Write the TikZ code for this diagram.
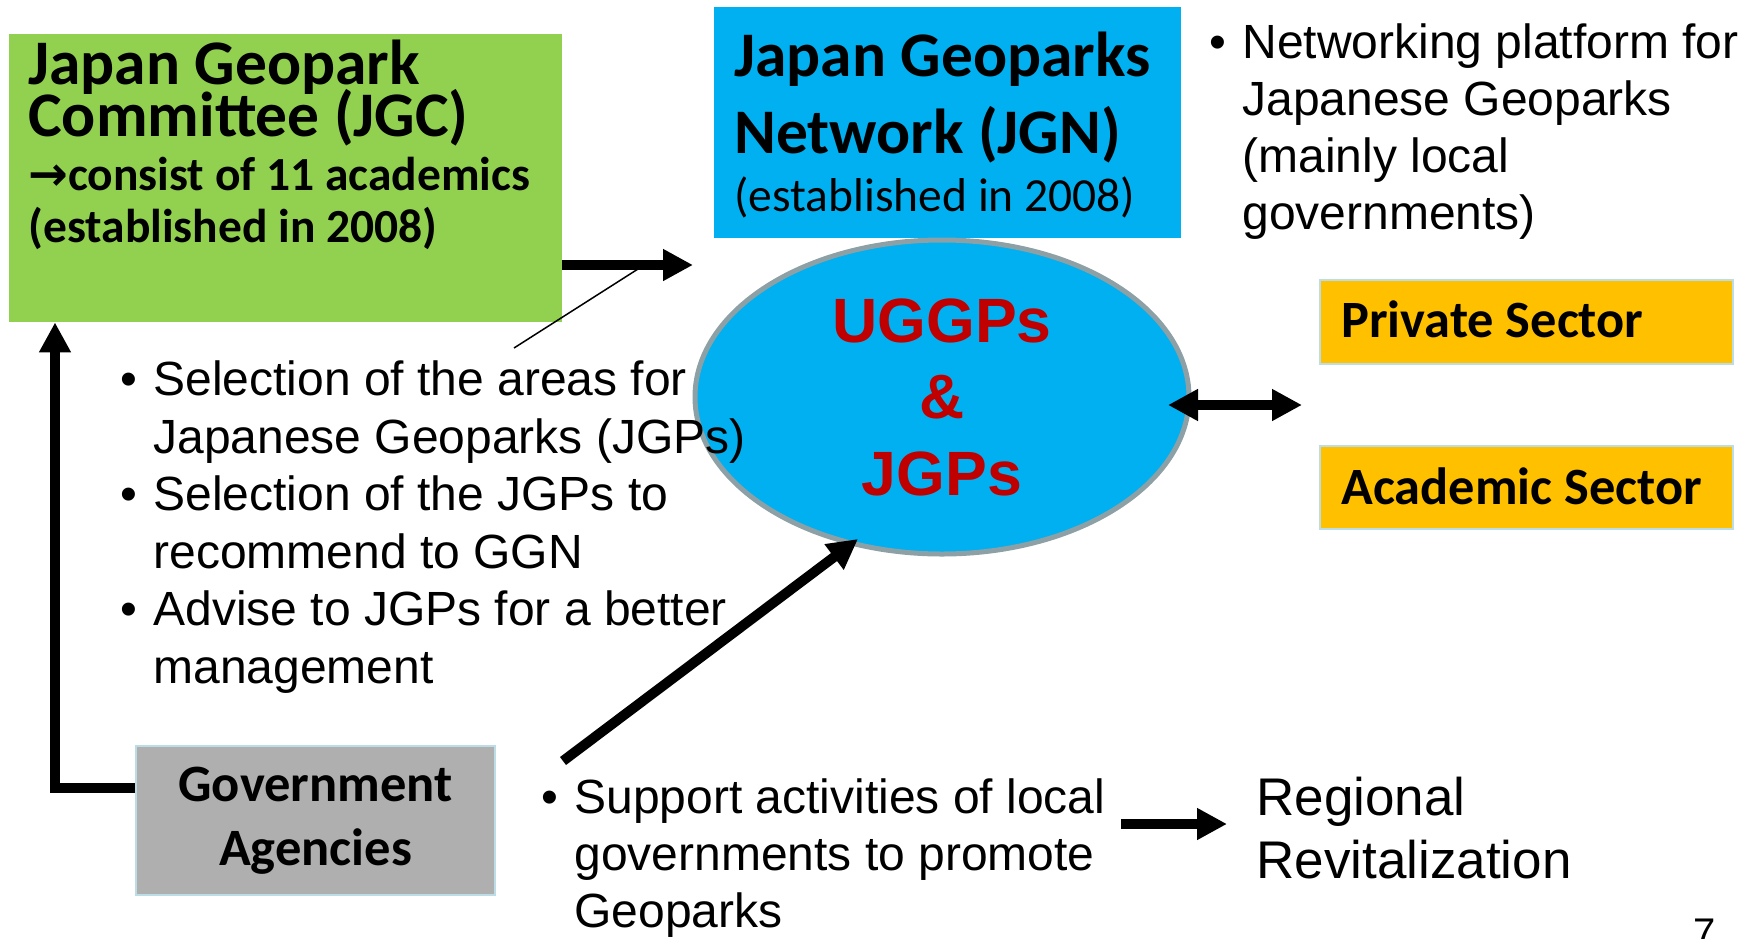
\documentclass[tikz,border=0pt]{standalone}
\usepackage{fontspec}
\setmainfont{Liberation Sans}
\newfontfamily\carlito{Carlito}
\newfontfamily\dejavu{DejaVu Sans}
\usetikzlibrary{shapes.geometric,arrows.meta}

\definecolor{jgcgreen}{HTML}{92D050}
\definecolor{jgnblue}{HTML}{00B0F0}
\definecolor{secorange}{HTML}{FFC000}
\definecolor{govgray}{HTML}{AFAFAF}
\definecolor{uggpred}{HTML}{C00000}
\definecolor{rimgray}{RGB}{140,160,165}
\definecolor{edgeblue}{HTML}{BDDDE6}

\setlength{\lineskiplimit}{-100pt}
\newcommand{\bul}{\leavevmode\llap{\makebox[16.5pt][l]{•}}}

\begin{document}
\begin{tikzpicture}[x=0.5pt,y=-0.5pt,
	box/.style={rectangle,inner sep=0pt},
	txt/.style={anchor=base west,inner sep=0pt,align=left},
	fat/.style={line width=5pt,-{Triangle[length=15pt,width=15pt]}},
	fatboth/.style={line width=5pt,{Triangle[length=15pt,width=15pt]}-{Triangle[length=15pt,width=15pt]}}]
\useasboundingbox (0,0) rectangle (1752,938);

	% committee (text nodes sit on their last baseline)
	\node[box,fill=jgcgreen,minimum width=276.5pt,minimum height=144pt] at (285.5,178) (jgc) {};
	\node[txt,font=\carlito\bfseries\fontsize{31.75}{26}\selectfont] at (28,136) (jgctitle) {Japan Geopark\\Committee (JGC)};
	\node[txt,font=\carlito\bfseries\fontsize{23.75}{26}\selectfont] at (28,242) (jgcsub) {{\dejavu →}consist of 11 academics\\(established in 2008)};

	% network
	\node[box,fill=jgnblue,minimum width=233.5pt,minimum height=115.5pt] at (947.5,122.5) (jgn) {};
	\node[txt,font=\carlito\bfseries\fontsize{31.75}{38.5}\selectfont] at (734,153) (jgntitle) {Japan Geoparks\\Network (JGN)};
	\node[txt,font=\carlito\fontsize{23.75}{28}\selectfont] at (734,211) (jgnyear) {(established in 2008)};
	\node[txt,font=\fontsize{24}{28.5}\selectfont] at (1242,229) (jgnnote) {\bul Networking platform for\\Japanese Geoparks\\(mainly local\\governments)};

	% geoparks
	\node[ellipse,draw=rimgray,line width=2.5pt,fill=jgnblue,minimum width=247pt,minimum height=157pt,inner sep=0pt,align=center,text=uggpred,font=\bfseries\fontsize{31.3}{38.25}\selectfont] at (942,397) (uggp) {UGGPs\\\&\\JGPs};

	% sectors
	\node[box,fill=secorange,draw=edgeblue,line width=1pt,minimum width=206.5pt,minimum height=42pt] at (1526.5,322) (priv) {};
	\node[txt,font=\carlito\bfseries\fontsize{26.2}{30}\selectfont] at (1341,337) (privtxt) {Private Sector};
	\node[box,fill=secorange,draw=edgeblue,line width=1pt,minimum width=206.5pt,minimum height=41.5pt] at (1526.5,487.5) (acad) {};
	\node[txt,font=\carlito\bfseries\fontsize{26.2}{30}\selectfont] at (1341,504) (acadtxt) {Academic Sector};

	% government
	\node[box,fill=govgray,draw=edgeblue,line width=1pt,minimum width=179.5pt,minimum height=74.5pt,align=center,font=\carlito\bfseries\fontsize{26.25}{32}\selectfont] at (315.5,820.5) (gov) {Government\\Agencies};

	\node[txt,font=\fontsize{24}{28.75}\selectfont] at (153,683) (jgcrole) {\bul Selection of the areas for\\Japanese Geoparks (JGPs)\\\bul Selection of the JGPs to\\recommend to GGN\\\bul Advise to JGPs for a better\\management};
	\node[txt,font=\fontsize{24}{28.5}\selectfont] at (574,927) (govrole) {\bul Support activities of local\\governments to promote\\Geoparks};
	\node[txt,font=\fontsize{26.5}{31.5}\selectfont] at (1256,878) (region) {Regional\\Revitalization};
	\node[txt,font=\fontsize{20}{24}\selectfont] at (1693,946) (pageno) {7};

	% connectors
	\coordinate (jgnin) at (693,265);
	\coordinate (callA) at (514,348);
	\coordinate (callB) at (638,269);
	\coordinate (bend) at (55,788);
	\coordinate (supA) at (563,761);
	\coordinate (supB) at (858,539);
	\coordinate (dblL) at (1168,405);
	\coordinate (dblR) at (1302,405);
	\coordinate (regA) at (1121,824);
	\coordinate (regB) at (1227,824);

	\draw[fat] (jgc.east |- jgnin) -- (jgnin);
	\draw[line width=0.75pt] (callA) -- (callB);
	\draw[fat] (gov.west |- bend) -- (bend) -- (jgc.south -| bend);
	\draw[fat] (supA) -- (supB);
	\draw[fatboth] (dblL) -- (dblR);
	\draw[fat] (regA) -- (regB);

\end{tikzpicture}
\end{document}
